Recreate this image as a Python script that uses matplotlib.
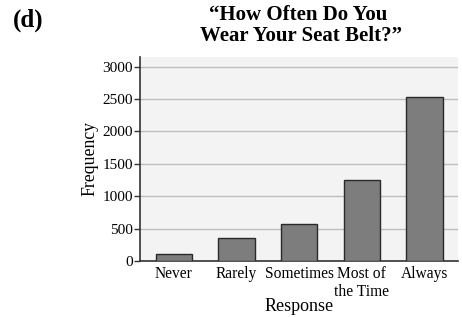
import numpy as np
import matplotlib.pyplot as plt

plt.rcParams['font.family'] = ['Liberation Serif', 'DejaVu Serif']

responses = ['Never', 'Rarely', 'Sometimes', 'Most of\nthe Time', 'Always']
freq = [100, 360, 575, 1255, 2530]
yticks = [0, 500, 1000, 1500, 2000, 2500, 3000]

fig = plt.figure(figsize=(4.62, 3.17), dpi=100)
ax = fig.add_axes([0.303, 0.177, 0.688, 0.643])
ax.set_facecolor('#f3f3f3')

x = np.arange(len(responses))
ax.bar(x, freq, width=0.58, color='#7d7d7d', edgecolor='#2a2a2a', linewidth=1.0, zorder=3)

ax.set_xlim(-0.54, 4.53)
ax.set_ylim(0, 3150)
ax.set_yticks(yticks)
ax.set_xticks(x)
ax.set_xticklabels(responses, fontsize=11.2, linespacing=1.1)
ax.tick_params(axis='y', labelsize=11, length=4, width=1, color='#333333', pad=1)
ax.tick_params(axis='x', length=0, pad=4)
ax.yaxis.grid(True, color='#bdbdbd', linewidth=1.0, zorder=0)
for s in ['top', 'right']:
    ax.spines[s].set_visible(False)
for s in ['left', 'bottom']:
    ax.spines[s].set_color('#333333')
    ax.spines[s].set_linewidth(1.2)

ax.set_ylabel('Frequency', fontsize=12.8, labelpad=3)
ax.set_xlabel('Response', fontsize=13)
ax.xaxis.label.set_va('center')
ax.xaxis.set_label_coords(0.5, -0.226)

fig.text(0.645, 0.953, '\u201cHow Often Do You', ha='center', va='center',
         fontsize=15, fontweight='bold')
fig.text(0.652, 0.886, 'Wear Your Seat Belt?\u201d', ha='center', va='center',
         fontsize=15, fontweight='bold')
fig.text(0.028, 0.937, '(d)', ha='left', va='center', fontsize=18, fontweight='bold')

fig.savefig('out.png', dpi=100)
